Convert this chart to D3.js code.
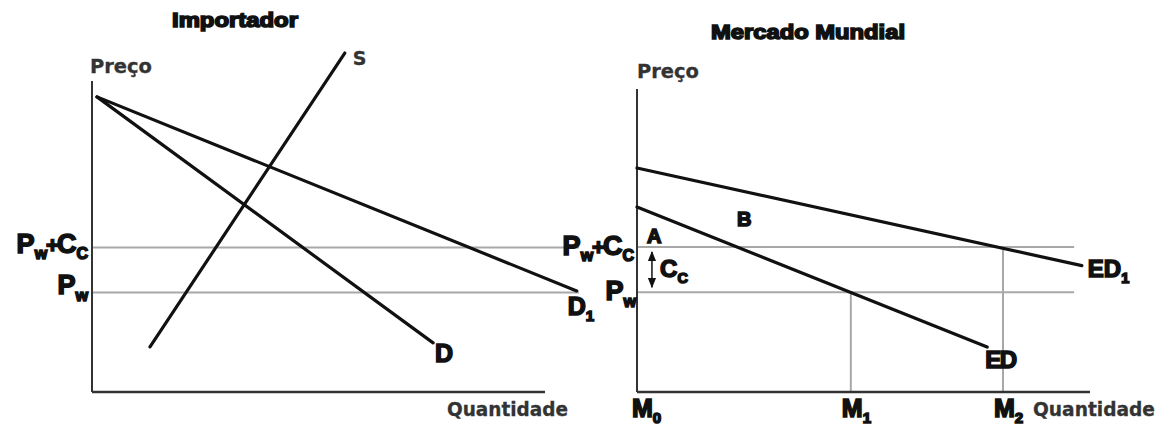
<!DOCTYPE html>
<html>
<head>
<meta charset="utf-8">
<script src="https://cdn.jsdelivr.net/npm/d3@7/dist/d3.min.js"></script>
<style>
body { margin:0; background:#fff; }
.heavy { font-family:'Liberation Sans', Arial, sans-serif; font-weight:bold; fill:#111; stroke:#111; stroke-width:1.6; }
.axislabel { font-family:'DejaVu Sans', Verdana, sans-serif; font-weight:bold; fill:#333; stroke:#333; stroke-width:0.3; }
</style>
</head>
<body>
<svg id="drawing_region"></svg>
<script>
// price levels (0-100 price units)
const priceLevels = [ {name:'PwCc', p:46.5}, {name:'Pw', p:32} ];

// importer panel
const supplyS  = [ {q:12.8, p:14.5}, {q:55.8, p:109} ];
const demandD  = [ {q:1.1, p:94.9}, {q:75.3, p:15.8} ];
const demandD1 = [ {q:1.1, p:94.9}, {q:107, p:32.5} ];

// world market panel
const excessED  = [ {q:0, p:59.3}, {q:77.3, p:14.4} ];
const excessED1 = [ {q:0, p:71.8}, {q:98.2, p:40.5} ];
const quantityMarks = [ {name:'M1', q:47.2, p:32}, {name:'M2', q:80.8, p:46.5} ];
const areaLabels = [ {name:'A', q:2.2, p:47.8}, {name:'B', q:22.1, p:53.2} ];

const svg = d3.select('#drawing_region')
    .attr('width', 1165)
    .attr('height', 425);

svg.append('defs').append('marker')
    .attr('id', 'head')
    .attr('viewBox', '0 0 10 10')
    .attr('refX', 9).attr('refY', 5)
    .attr('markerWidth', 7).attr('markerHeight', 7)
    .attr('orient', 'auto-start-reverse')
    .append('path')
    .attr('d', 'M0,1 L10,5 L0,9 Z')
    .attr('fill', '#111');

class Panel {
    constructor( config ) {
        this.config = config;
        this.x = d3.scaleLinear().domain([0, 100]).range(config.xrange);
        this.y = d3.scaleLinear().domain([0, 100]).range(config.yrange);
        this.g = svg.append('g');
        this.line = d3.line().x( d => this.x(d.q) ).y( d => this.y(d.p) );
    }
    axes( ytop, xend ) {
        let self = this;
        self.g.append('line')
            .attr('x1', self.x(0)).attr('y1', self.y(0))
            .attr('x2', self.x(0)).attr('y2', self.y(ytop))
            .attr('stroke', '#333').attr('stroke-width', 2);
        self.g.append('line')
            .attr('x1', self.x(0)).attr('y1', self.y(0))
            .attr('x2', self.x(xend)).attr('y2', self.y(0))
            .attr('stroke', '#333').attr('stroke-width', 2.5);
    }
    guides( qend ) {
        let self = this;
        self.g.selectAll('line.guide').data(priceLevels)
            .enter().append('line')
            .attr('class', 'guide')
            .attr('x1', self.x(0)).attr('x2', self.x(qend))
            .attr('y1', d => self.y(d.p)).attr('y2', d => self.y(d.p))
            .attr('stroke', '#a8a8a8').attr('stroke-width', 2);
    }
    curve( pts ) {
        this.g.append('path')
            .datum(pts)
            .attr('d', this.line)
            .attr('fill', 'none')
            .attr('stroke', '#111')
            .attr('stroke-width', 3.2)
            .attr('stroke-linecap', 'round');
    }
    title( txt, cx, base, len ) {
        this.g.append('text')
            .attr('class', 'heavy')
            .attr('x', cx).attr('y', base)
            .attr('text-anchor', 'middle')
            .attr('font-size', 20)
            .attr('stroke-width', 2.2)
            .attr('textLength', len)
            .attr('lengthAdjust', 'spacingAndGlyphs')
            .text(txt);
    }
    axisText( txt, x, y, len ) {
        this.g.append('text')
            .attr('class', 'axislabel')
            .attr('x', x).attr('y', y)
            .attr('font-size', 19)
            .attr('textLength', len)
            .attr('lengthAdjust', 'spacingAndGlyphs')
            .text(txt);
    }
    // label like P_w or M_1 : main letters + subscript
    sub( main, s, x, y, size, anchor ) {
        const t = this.g.append('text')
            .attr('class', 'heavy')
            .attr('x', x).attr('y', y)
            .attr('text-anchor', anchor || 'start')
            .attr('font-size', size);
        t.append('tspan').text(main);
        t.append('tspan').attr('font-size', size * 0.6).attr('dy', size * 0.25).text(s);
        return t;
    }
    pwcc( x, y ) {
        const t = this.g.append('text')
            .attr('class', 'heavy')
            .attr('x', x).attr('y', y)
            .attr('text-anchor', 'end')
            .attr('font-size', 27);
        t.append('tspan').text('P');
        t.append('tspan').attr('font-size', 16).attr('dy', 6).text('w');
        t.append('tspan').attr('font-size', 22).attr('dy', -6).attr('dx', -1).text('+');
        t.append('tspan').attr('dx', -2).text('C');
        t.append('tspan').attr('font-size', 16).attr('dy', 6).text('C');
    }
}

// ---------- Importador ----------
const left = new Panel({ xrange:[92, 545], yrange:[392, 81] });
left.guides(107.5);
left.axes(100, 100);
left.curve(demandD1);
left.curve(demandD);
left.curve(supplyS);
left.title('Importador', 235, 27, 126);
left.axisText('Preço', 90, 73, 62);
left.axisText('Quantidade', 447, 416, 121);

const sEnd = supplyS[1], dEnd = demandD[1], d1End = demandD1[1];
left.g.append('text')
    .attr('class', 'axislabel')
    .attr('x', left.x(sEnd.q) + 8).attr('y', left.y(sEnd.p) + 12)
    .attr('font-size', 19)
    .attr('fill', '#222')
    .text('S');
left.g.append('text')
    .attr('class', 'heavy')
    .attr('x', left.x(dEnd.q) + 2).attr('y', left.y(dEnd.p) + 19)
    .attr('font-size', 25)
    .text('D');
left.sub('D', '1', left.x(d1End.q) - 9, left.y(d1End.p) + 24, 25);
left.pwcc(88, left.y(priceLevels[0].p) + 6);
left.sub('P', 'w', 88, left.y(priceLevels[1].p) + 2, 27, 'end');

// ---------- Mercado Mundial ----------
const right = new Panel({ xrange:[637, 1090], yrange:[392, 80] });
right.guides(96.5);
right.g.selectAll('line.mark').data(quantityMarks)
    .enter().append('line')
    .attr('class', 'mark')
    .attr('x1', d => right.x(d.q)).attr('x2', d => right.x(d.q))
    .attr('y1', right.y(0)).attr('y2', d => right.y(d.p))
    .attr('stroke', '#a8a8a8').attr('stroke-width', 2);
right.axes(97.1, 100);
right.curve(excessED1);
right.curve(excessED);
right.title('Mercado Mundial', 808, 39, 194);
right.axisText('Preço', 637, 78, 62);
right.axisText('Quantidade', 1033, 416, 122);

const edEnd = excessED[1], ed1End = excessED1[1];
right.g.append('text')
    .attr('class', 'heavy')
    .attr('x', right.x(edEnd.q) - 2).attr('y', right.y(edEnd.p) + 21)
    .attr('font-size', 24)
    .attr('textLength', 32)
    .text('ED');
right.sub('ED', '1', right.x(ed1End.q) + 6, right.y(ed1End.p) + 11, 24);
right.pwcc(634, right.y(priceLevels[0].p) + 8);
right.sub('P', 'w', 636, right.y(priceLevels[1].p) + 8, 27, 'end');

right.sub('M', '0', right.x(0) - 5, 417, 25);
quantityMarks.forEach( d => right.sub('M', d.name.slice(1), right.x(d.q) - 9, 417, 25) );

right.g.selectAll('text.area').data(areaLabels)
    .enter().append('text')
    .attr('class', 'heavy area')
    .attr('x', d => right.x(d.q)).attr('y', d => right.y(d.p))
    .attr('font-size', 20)
    .attr('fill', '#333').attr('stroke', '#333').attr('stroke-width', 0.6)
    .text(d => d.name);

// C_c gap between the two price levels
right.g.append('line')
    .attr('x1', right.x(3.3)).attr('x2', right.x(3.3))
    .attr('y1', right.y(priceLevels[0].p) + 5).attr('y2', right.y(priceLevels[1].p) - 5)
    .attr('stroke', '#111').attr('stroke-width', 1.5)
    .attr('marker-start', 'url(#head)')
    .attr('marker-end', 'url(#head)');
right.sub('C', 'C', right.x(5.1), right.y(priceLevels[1].p) - 15, 24);
</script>
</body>
</html>
